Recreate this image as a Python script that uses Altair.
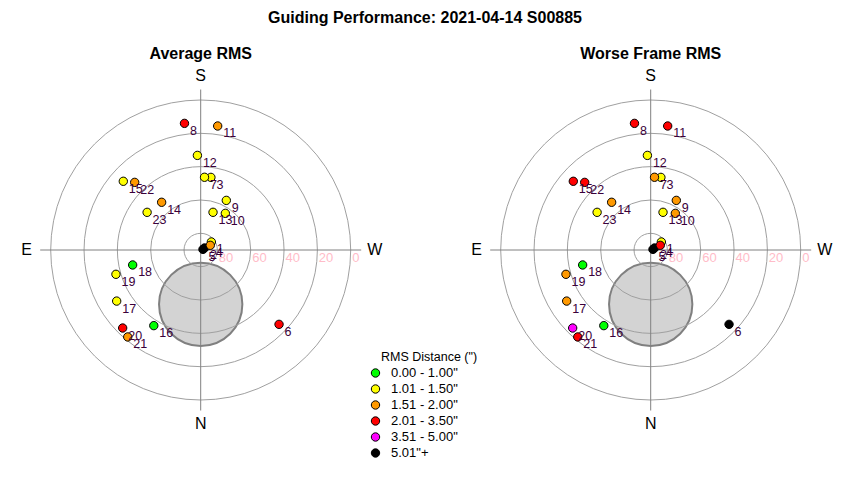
import math
import altair as alt
import pandas as pd

# ---------------- data ----------------
MAIN_TITLE = "Guiding Performance: 2021-04-14 S00885"
PANEL_TITLES = ["Average RMS", "Worse Frame RMS"]

FRAME_IDS = list(range(1, 24))
ALTITUDE = [82.0, 87.4, 46.0, 83.6, 88.6, 25.2, 46.3, 13.4, 56.5, 63.5, 14.9, 33.2,
            66.2, 53.0, 27.9, 36.6, 31.0, 48.2, 37.1, 23.8, 21.9, 33.3, 50.7]
AZIMUTH = [233.0, 242.0, 188.0, 244.0, 255.0, 313.5, 183.0, 172.7, 207.3, 213.9, 187.8, 178.0,
           198.1, 140.7, 131.6, 31.8, 58.7, 77.6, 74.0, 45.0, 40.0, 135.7, 125.1]
AVG_CLASS = [1, 5, 1, 2, 5, 3, 1, 3, 1, 1, 2, 1, 1, 2, 1, 0, 1, 0, 1, 3, 2, 2, 1]
WORST_CLASS = [1, 5, 1, 3, 5, 5, 2, 3, 2, 2, 3, 1, 1, 2, 3, 0, 2, 0, 2, 4, 3, 3, 1]

CLASS_LABELS = ['0.00 - 1.00"', '1.01 - 1.50"', '1.51 - 2.00"',
                '2.01 - 3.50"', '3.51 - 5.00"', '5.01"+']
CLASS_COLORS = ["#00ff00", "#ffff00", "#ff9900", "#ff0000", "#ff00ff", "#000000"]
LEGEND_TITLE = 'RMS Distance (")'

ALT_RINGS = [80, 60, 40, 20, 0]
COMPASS = ["S", "N", "E", "W"]
COMPASS_AZ = [180, 0, 90, 270]

AVOID_ALT = 57.4
AVOID_AZ = 0.0
AVOID_RADIUS = 25.0

# ---------------- layout ----------------
FONT = "Liberation Sans"
W, H = 834, 464
K = 150 / 90              # pixels per degree of zenith distance
CENTERS = [(192.7, 242.0), (642.7, 242.0)]
AXIS_EXTENT = 96.3        # degrees
COMPASS_DIST = 104.5      # degrees


def to_xy(cx, cy, alt_deg, az_deg):
    r = (90 - alt_deg) * K
    a = math.radians(az_deg)
    return cx - r * math.sin(a), cy + r * math.cos(a)


pts, rings, axes, comp, avoid, titles = [], [], [], [], [], []
for p, (cx, cy) in enumerate(CENTERS):
    classes = AVG_CLASS if p == 0 else WORST_CLASS
    for i, fid in enumerate(FRAME_IDS):
        x, y = to_xy(cx, cy, ALTITUDE[i], AZIMUTH[i])
        pts.append({"panel": PANEL_TITLES[p], "frame": fid, "x": x, "y": y,
                    "lx": x + 5.5, "ly": y + 7.5, "cls": CLASS_LABELS[classes[i]],
                    "label": str(fid)})
    for a in ALT_RINGS:
        r = (90 - a) * K
        rings.append({"x": cx, "y": cy, "size": (2 * r) ** 2,
                      "lx": cx + r + 1.5, "ly": cy + 8, "label": str(a)})
    e = AXIS_EXTENT * K
    axes.append({"x": cx, "x2": cx, "y": cy - e, "y2": cy + e})
    axes.append({"x": cx - e, "x2": cx + e, "y": cy, "y2": cy})
    for lab, az in zip(COMPASS, COMPASS_AZ):
        x, y = to_xy(cx, cy, 90 - COMPASS_DIST, az)
        comp.append({"x": x, "y": y, "label": lab})
    ax, ay = to_xy(cx, cy, AVOID_ALT, AVOID_AZ)
    avoid.append({"x": ax, "y": ay, "size": (2 * AVOID_RADIUS * K) ** 2})
    titles.append({"x": cx, "y": 46, "label": PANEL_TITLES[p]})

pts = pd.DataFrame(pts)
rings = pd.DataFrame(rings)
axes = pd.DataFrame(axes)
comp = pd.DataFrame(comp)
avoid = pd.DataFrame(avoid)
titles = pd.DataFrame(titles)
main_title = pd.DataFrame([{"x": W / 2, "y": 10, "label": MAIN_TITLE}])
legend_title = pd.DataFrame([{"x": 373, "y": 349, "label": LEGEND_TITLE}])

xs = alt.Scale(domain=[0, W], nice=False, zero=False)
ys = alt.Scale(domain=[0, H], nice=False, zero=False, reverse=True)


def X(f="x"):
    return alt.X(f"{f}:Q", scale=xs, axis=None)


def Y(f="y"):
    return alt.Y(f"{f}:Q", scale=ys, axis=None)


avoid_layer = alt.Chart(avoid).mark_point(
    shape="circle", filled=True, fill="#d3d3d3", stroke="#808080", strokeWidth=2, opacity=1
).encode(x=X(), y=Y(), size=alt.Size("size:Q", scale=None))

ring_layer = alt.Chart(rings).mark_point(
    shape="circle", filled=False, stroke="#a0a0a0", strokeWidth=1, opacity=1
).encode(x=X(), y=Y(), size=alt.Size("size:Q", scale=None))

axis_layer = alt.Chart(axes).mark_rule(color="#808080", strokeWidth=1).encode(
    x=X(), x2="x2:Q", y=Y(), y2="y2:Q")

ring_label_layer = alt.Chart(rings).mark_text(
    align="left", baseline="middle", font=FONT, fontSize=13, color="#ffbcc8"
).encode(x=X("lx"), y=Y("ly"), text="label:N")

compass_layer = alt.Chart(comp).mark_text(
    align="center", baseline="middle", font=FONT, fontSize=16, color="#000000"
).encode(x=X(), y=Y(), text="label:N")

point_layer = alt.Chart(pts).mark_point(
    shape="circle", filled=True, stroke="#000000", strokeWidth=1, opacity=1
).encode(
    x=X(), y=Y(),
    fill=alt.Fill("cls:N", scale=alt.Scale(domain=CLASS_LABELS, range=CLASS_COLORS),
                  legend=alt.Legend(title=None, orient="none", legendX=361, legendY=357,
                                    symbolType="circle", symbolSize=70,
                                    symbolStrokeColor="#000000", symbolStrokeWidth=1,
                                    symbolOpacity=1, labelFont=FONT, labelFontSize=13,
                                    labelColor="#000000", labelOffset=9,
                                    clipHeight=16, rowPadding=0, padding=0)),
    size=alt.value(70),
    order=alt.Order("frame:Q"),
)

point_label_layer = alt.Chart(pts).mark_text(
    align="left", baseline="middle", font=FONT, fontSize=12.5, color="#3a003a"
).encode(x=X("lx"), y=Y("ly"), text="label:N")

title_layer = alt.Chart(titles).mark_text(
    align="center", baseline="middle", font=FONT, fontSize=16, fontWeight="bold", color="#000000"
).encode(x=X(), y=Y(), text="label:N")

main_title_layer = alt.Chart(main_title).mark_text(
    align="center", baseline="middle", font=FONT, fontSize=16, fontWeight="bold", color="#000000"
).encode(x=X(), y=Y(), text="label:N")

legend_title_layer = alt.Chart(legend_title).mark_text(
    align="left", baseline="middle", font=FONT, fontSize=12.5, color="#000000"
).encode(x=X(), y=Y(), text="label:N")

chart = alt.layer(
    avoid_layer, ring_layer, axis_layer, ring_label_layer, compass_layer,
    point_layer, point_label_layer, title_layer, main_title_layer, legend_title_layer,
).properties(
    width=W, height=H, padding=0, autosize=alt.AutoSizeParams(type="none"),
).configure_view(stroke=None)

chart.save("out.html", embed_options={"renderer": "svg", "actions": False})
